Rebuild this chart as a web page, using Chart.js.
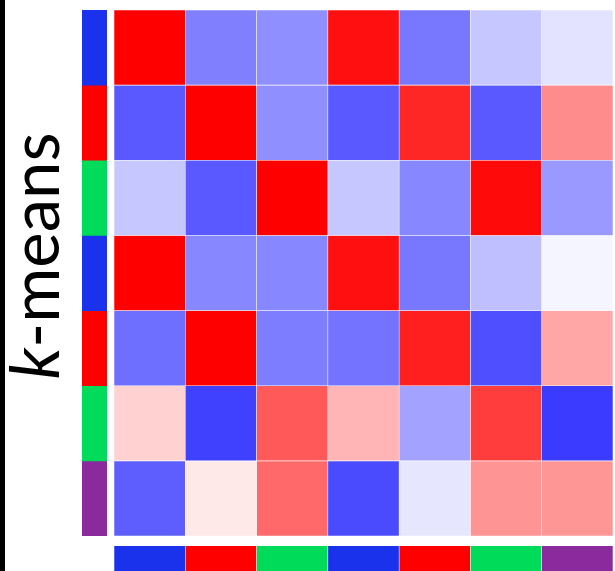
<!DOCTYPE html>
<html>
<head>
<meta charset="utf-8">
<script src="https://cdn.jsdelivr.net/npm/chart.js@4/dist/chart.umd.min.js"></script>
<style>
  html, body { margin: 0; padding: 0; background: #fff; }
  body { width: 615px; height: 571px; position: relative; overflow: hidden; }
  #edge { position: absolute; left: 0; top: 0; width: 5px; height: 571px; background: #000; }
  canvas { position: absolute; display: block; }
  #heat { left: 114px; top: 10px; }
  #rowBar { left: 82px; top: 10px; }
  #colBar { left: 114px; top: 546px; }
  #label {
    position: absolute; left: -117px; top: 222px; width: 300px; height: 68px;
    line-height: 68px; text-align: center; white-space: nowrap;
    font-family: Lato, "Open Sans", sans-serif; font-size: 67px; color: #000;
    transform: rotate(-90deg); transform-origin: 50% 50%;
  }
</style>
</head>
<body>
<div id="edge"></div>
<div id="label"><i>k</i>-means</div>
<canvas id="rowBar" width="25" height="526"></canvas>
<canvas id="heat" width="499" height="526"></canvas>
<canvas id="colBar" width="499" height="26"></canvas>
<script>
// Samples (columns) and k-means cluster assignments
const columns = ['1', '2', '3', '4', '5', '6', '7'];
const rowClusters = [0, 1, 2, 0, 1, 2, 3];
const colClusters = [0, 1, 2, 0, 1, 2, 3];
const clusterColors = ['#1a32ec', '#ff0000', '#00dc5a', '#8a2a9c'];

// Correlation values, one array per row (-1 = blue, 0 = white, +1 = red)
const row1 = [ 1.00, -0.50, -0.44,  0.94, -0.53, -0.22, -0.11];
const row2 = [-0.65,  1.00, -0.44, -0.65,  0.85, -0.65,  0.45];
const row3 = [-0.22, -0.65,  1.00, -0.22, -0.47,  0.96, -0.40];
const row4 = [ 1.00, -0.47, -0.47,  0.94, -0.53, -0.25, -0.04];
const row5 = [-0.57,  1.00, -0.51, -0.55,  0.88, -0.69,  0.35];
const row6 = [ 0.18, -0.75,  0.65,  0.29, -0.36,  0.76, -0.77];
const row7 = [-0.63,  0.09,  0.59, -0.71, -0.10,  0.42,  0.41];
const rows = [row1, row2, row3, row4, row5, row6, row7];

// Blue-white-red diverging colour scale
function heatColor(v) {
  const t = Math.max(-1, Math.min(1, v));
  const k = Math.round(255 * (1 - Math.abs(t)));
  return t >= 0 ? `rgb(255,${k},${k})` : `rgb(${k},${k},255)`;
}

const hidden = { legend: { display: false }, tooltip: { enabled: false } };
function gridScales(nRows) {
  return {
    x: { display: false, stacked: true },
    y: { display: false, stacked: true, min: 0, max: nRows, reverse: true }
  };
}
// Unit cells with a faint light seam between neighbours
const barStyle = {
  categoryPercentage: 1, barPercentage: 1,
  borderWidth: 0.6, borderColor: 'rgba(255,255,255,0.35)', borderSkipped: false
};

// Heatmap: each row is a stacked band of unit-height cells
new Chart(document.getElementById('heat'), {
  type: 'bar',
  data: {
    labels: columns,
    datasets: rows.map((r, i) => Object.assign({
      label: 'row ' + (i + 1),
      data: r.map(() => 1),
      backgroundColor: r.map(heatColor)
    }, barStyle))
  },
  options: {
    responsive: false, animation: false,
    layout: { padding: 0 },
    plugins: hidden,
    scales: gridScales(rows.length)
  }
});

// Row cluster annotation strip
new Chart(document.getElementById('rowBar'), {
  type: 'bar',
  data: {
    labels: ['cluster'],
    datasets: rowClusters.map((c, i) => Object.assign({
      label: 'row ' + (i + 1),
      data: [1],
      backgroundColor: clusterColors[c]
    }, barStyle, { borderWidth: 0 }))
  },
  options: {
    responsive: false, animation: false,
    layout: { padding: 0 },
    plugins: hidden,
    scales: gridScales(rowClusters.length)
  }
});

// Column cluster annotation strip
new Chart(document.getElementById('colBar'), {
  type: 'bar',
  data: {
    labels: columns,
    datasets: [Object.assign({
      label: 'cluster',
      data: colClusters.map(() => 1),
      backgroundColor: colClusters.map(c => clusterColors[c])
    }, barStyle, { borderWidth: { left: 0.6, right: 0.6, top: 0, bottom: 0 } })]
  },
  options: {
    responsive: false, animation: false,
    layout: { padding: 0 },
    plugins: hidden,
    scales: gridScales(1)
  }
});
</script>
</body>
</html>
